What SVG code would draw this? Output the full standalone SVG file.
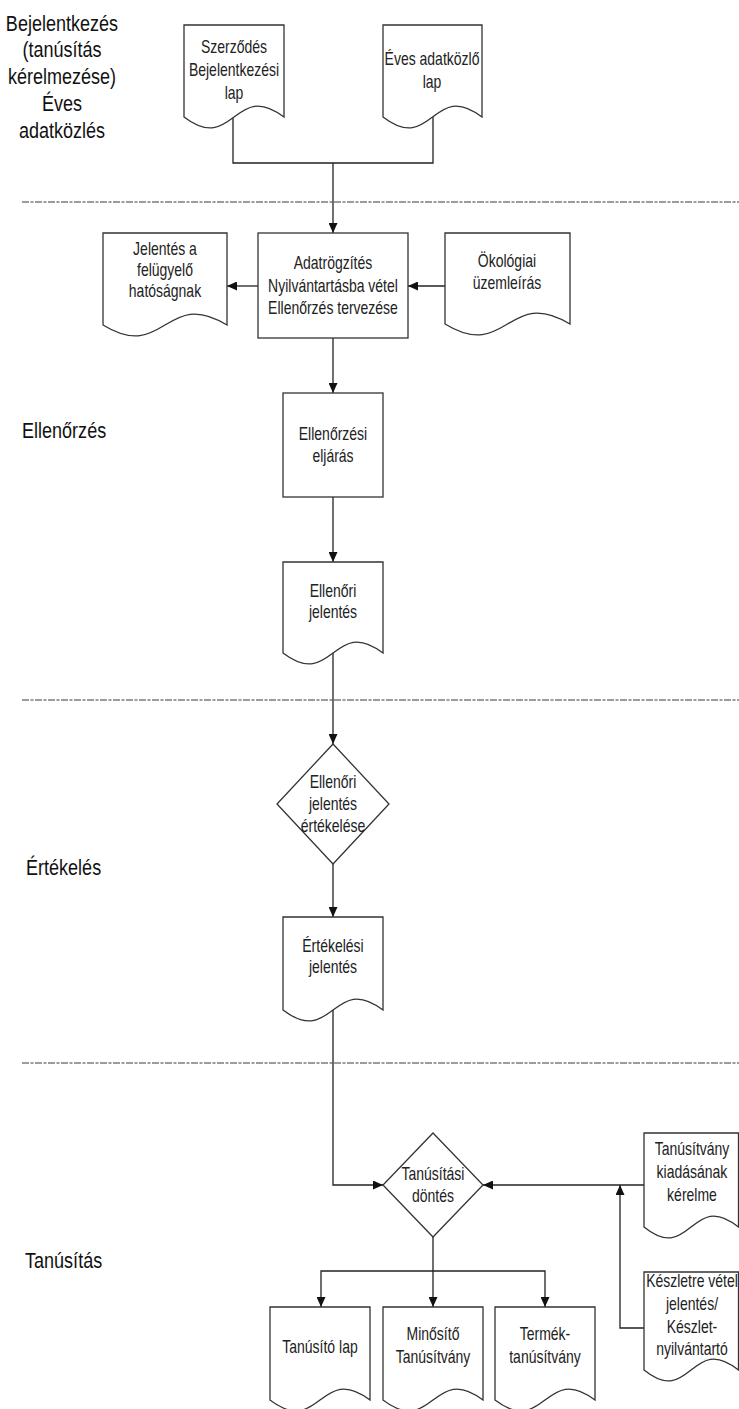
<svg xmlns="http://www.w3.org/2000/svg" width="739" height="1409" viewBox="0 0 739 1409">
<style>
.shape{fill:#fff;stroke:#333;stroke-width:1.3}
.t{font-family:"Liberation Sans",Arial,sans-serif;font-size:17.5px;fill:#222;text-anchor:middle}
.lbl{font-family:"Liberation Sans",Arial,sans-serif;font-size:22px;fill:#111}
.c{fill:none;stroke:#222;stroke-width:1.3}
.sep{stroke:#3a3a3a;stroke-width:1.1;stroke-dasharray:7 1.5 3 1.5}
</style>
<defs>
<marker id="ah" markerWidth="11" markerHeight="9" refX="10" refY="4.5" orient="auto" markerUnits="userSpaceOnUse">
<path d="M0,0 L10,4.5 L0,9 Z" fill="#111"/>
</marker>
</defs>
<rect width="739" height="1409" fill="#fff"/>
<g id="lanes">
<line class="sep" x1="22" y1="202" x2="739" y2="202"/>
<line class="sep" x1="22" y1="700" x2="739" y2="700"/>
<line class="sep" x1="22" y1="1063" x2="739" y2="1063"/>
<text class="lbl" text-anchor="middle" transform="translate(62 0) scale(0.82 1) translate(-62 0)"><tspan x="62" y="31">Bejelentkezés</tspan><tspan x="62" y="57">(tanúsítás</tspan><tspan x="62" y="84">kérelmezése)</tspan><tspan x="62" y="111">Éves</tspan><tspan x="62" y="138">adatközlés</tspan></text>
<text class="lbl" x="22" y="438" transform="translate(22 0) scale(0.82 1) translate(-22 0)">Ellenőrzés</text>
<text class="lbl" x="26" y="875" transform="translate(26 0) scale(0.82 1) translate(-26 0)">Értékelés</text>
<text class="lbl" x="25" y="1268" transform="translate(25 0) scale(0.82 1) translate(-25 0)">Tanúsítás</text>
</g>
<g id="connectors">
<polyline class="c" points="233,117 233,163 433,163 433,117"/>
<line class="c" x1="333" y1="163" x2="333" y2="233" marker-end="url(#ah)"/>
<line class="c" x1="258" y1="286" x2="227" y2="286" marker-end="url(#ah)"/>
<line class="c" x1="445" y1="286" x2="408" y2="286" marker-end="url(#ah)"/>
<line class="c" x1="333" y1="338" x2="333" y2="393" marker-end="url(#ah)"/>
<line class="c" x1="333" y1="497" x2="333" y2="562" marker-end="url(#ah)"/>
<line class="c" x1="333" y1="653" x2="333" y2="744" marker-end="url(#ah)"/>
<line class="c" x1="333" y1="864" x2="333" y2="917" marker-end="url(#ah)"/>
<polyline class="c" points="333,1010 333,1185 383,1185" marker-end="url(#ah)"/>
<line class="c" x1="644" y1="1185" x2="483" y2="1185" marker-end="url(#ah)"/>
<polyline class="c" points="644,1328 620,1328 620,1185" marker-end="url(#ah)"/>
<line class="c" x1="433" y1="1237" x2="433" y2="1307" marker-end="url(#ah)"/>
<polyline class="c" points="433,1271 321,1271 321,1307" marker-end="url(#ah)"/>
<polyline class="c" points="433,1271 545,1271 545,1307" marker-end="url(#ah)"/>
</g>
<g id="n-szerzodes">
<path class="shape" d="M184,25 H284 V117 C234,79 234,155 184,117 Z"/>
<text class="t" transform="translate(234 0) scale(0.8 1) translate(-234 0)"><tspan x="234" y="53">Szerződés</tspan><tspan x="234" y="76">Bejelentkezési</tspan><tspan x="234" y="99">lap</tspan></text>
</g>
<g id="n-eves">
<path class="shape" d="M383,25 H482 V117 C432.5,79 432.5,155 383,117 Z"/>
<text class="t" transform="translate(432 0) scale(0.8 1) translate(-432 0)"><tspan x="432" y="65">Éves adatközlő</tspan><tspan x="432" y="88">lap</tspan></text>
</g>
<g id="n-adatrogzites">
<rect class="shape" x="258" y="233" width="150" height="105"/>
<text class="t" transform="translate(333 0) scale(0.8 1) translate(-333 0)"><tspan x="333" y="269">Adatrögzítés</tspan><tspan x="333" y="292">Nyilvántartásba vétel</tspan><tspan x="333" y="314">Ellenőrzés tervezése</tspan></text>
</g>
<g id="n-jelentes">
<path class="shape" d="M103,233 H227 V325 C165,287 165,363 103,325 Z"/>
<text class="t" transform="translate(165 0) scale(0.8 1) translate(-165 0)"><tspan x="165" y="255">Jelentés a</tspan><tspan x="165" y="276">felügyelő</tspan><tspan x="165" y="297">hatóságnak</tspan></text>
</g>
<g id="n-okologiai">
<path class="shape" d="M445,233 H570 V324 C507.5,286 507.5,362 445,324 Z"/>
<text class="t" transform="translate(507 0) scale(0.8 1) translate(-507 0)"><tspan x="507" y="267">Ökológiai</tspan><tspan x="507" y="289">üzemleírás</tspan></text>
</g>
<g id="n-ellenorzesi">
<rect class="shape" x="283" y="393" width="100" height="104"/>
<text class="t" transform="translate(333 0) scale(0.8 1) translate(-333 0)"><tspan x="333" y="440">Ellenőrzési</tspan><tspan x="333" y="462">eljárás</tspan></text>
</g>
<g id="n-ellenori-jelentes">
<path class="shape" d="M283,562 H383 V653 C333,615 333,691 283,653 Z"/>
<text class="t" transform="translate(333 0) scale(0.8 1) translate(-333 0)"><tspan x="333" y="597">Ellenőri</tspan><tspan x="333" y="618">jelentés</tspan></text>
</g>
<g id="n-ertekeles-dontes">
<path class="shape" d="M333,744 L389,804 L333,864 L277,804 Z"/>
<text class="t" transform="translate(333 0) scale(0.8 1) translate(-333 0)"><tspan x="333" y="788">Ellenőri</tspan><tspan x="333" y="810">jelentés</tspan><tspan x="333" y="832">értékelése</tspan></text>
</g>
<g id="n-ertekelesi-jelentes">
<path class="shape" d="M283,917 H383 V1010 C333,972 333,1048 283,1010 Z"/>
<text class="t" transform="translate(333 0) scale(0.8 1) translate(-333 0)"><tspan x="333" y="952">Értékelési</tspan><tspan x="333" y="973">jelentés</tspan></text>
</g>
<g id="n-tanusitasi-dontes">
<path class="shape" d="M433,1133 L483,1185 L433,1237 L383,1185 Z"/>
<text class="t" transform="translate(433 0) scale(0.8 1) translate(-433 0)"><tspan x="433" y="1180">Tanúsítási</tspan><tspan x="433" y="1202">döntés</tspan></text>
</g>
<g id="n-tanusitvany-kerelem">
<path class="shape" d="M644,1133 H738.5 V1227 C691,1189 691,1265 644,1227 Z"/>
<text class="t" transform="translate(692 0) scale(0.8 1) translate(-692 0)"><tspan x="692" y="1155">Tanúsítvány</tspan><tspan x="692" y="1178">kiadásának</tspan><tspan x="692" y="1201">kérelme</tspan></text>
</g>
<g id="n-keszlet">
<path class="shape" d="M644,1272 H738.5 V1370 C691,1332 691,1408 644,1370 Z"/>
<text class="t" transform="translate(692 0) scale(0.8 1) translate(-692 0)"><tspan x="692" y="1287">Készletre vétel</tspan><tspan x="692" y="1310">jelentés/</tspan><tspan x="692" y="1333">Készlet-</tspan><tspan x="692" y="1355">nyilvántartó</tspan></text>
</g>
<g id="n-tanusito-lap">
<path class="shape" d="M270,1307 H370 V1400 C320,1362 320,1438 270,1400 Z"/>
<text class="t" x="320" y="1353" transform="translate(320 0) scale(0.8 1) translate(-320 0)">Tanúsító lap</text>
</g>
<g id="n-minosito">
<path class="shape" d="M383,1307 H483 V1400 C433,1362 433,1438 383,1400 Z"/>
<text class="t" transform="translate(433 0) scale(0.8 1) translate(-433 0)"><tspan x="433" y="1340">Minősítő</tspan><tspan x="433" y="1363">Tanúsítvány</tspan></text>
</g>
<g id="n-termek">
<path class="shape" d="M495,1307 H595 V1400 C545,1362 545,1438 495,1400 Z"/>
<text class="t" transform="translate(545 0) scale(0.8 1) translate(-545 0)"><tspan x="545" y="1340">Termék-</tspan><tspan x="545" y="1363">tanúsítvány</tspan></text>
</g>
</svg>
